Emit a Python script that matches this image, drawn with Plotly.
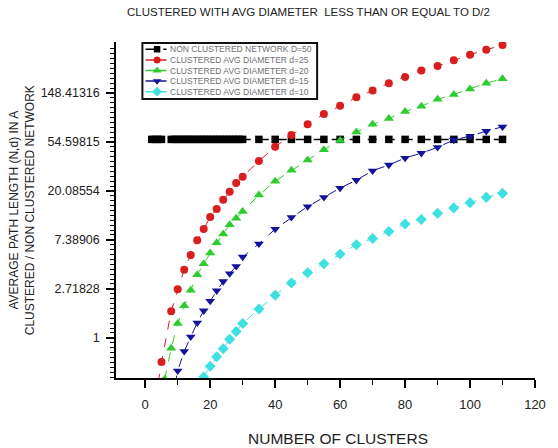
import math
import plotly.graph_objects as go

# ---------------- data ----------------
x_black = [2, 3, 4, 5, 8, 9, 10, 11, 12, 13, 14, 15, 16, 17, 18, 19, 20, 21, 22, 23, 24, 25, 26,
           27, 28, 29, 30, 35, 40, 45, 50, 55, 60, 65, 70, 75, 80, 85, 90, 95, 100, 105, 110]
y_black = [57.5] * len(x_black)

x_red = [4, 5, 8, 10, 12, 14, 16, 18, 20, 22, 24, 26, 28, 30, 35, 40, 45, 50, 55, 60, 65, 70,
         75, 80, 85, 90, 95, 100, 105, 110]
y_red = [0.40, 0.61, 1.72, 2.69, 4.01, 5.42, 7.32, 9.21, 11.8, 13.9, 16.8, 19.7, 23.6, 26.8,
         37.0, 49.4, 62.8, 78.3, 96.5, 114, 136, 156, 181, 206, 235, 257, 290, 324, 358, 395]

x_green = [6, 8, 10, 12, 14, 16, 18, 20, 22, 24, 26, 28, 30, 35, 40, 45, 50, 55, 60, 65, 70,
           75, 80, 85, 90, 95, 100, 105, 110]
y_green = [0.43, 0.81, 1.34, 1.93, 2.64, 3.63, 4.53, 5.64, 6.96, 8.33, 10.07, 11.47, 13.2,
           18.5, 24.5, 30.6, 37.7, 46.5, 56.3, 66.7, 78.3, 88.2, 101.5, 113.3, 130.3, 144,
           160.8, 181.3, 198.3]

x_blue = [8, 10, 12, 14, 16, 18, 20, 22, 24, 26, 28, 30, 35, 40, 45, 50, 55, 60, 65, 70, 75,
          80, 85, 90, 95, 100, 105, 110]
y_blue = [0.27, 0.51, 0.76, 1.02, 1.36, 1.74, 2.12, 2.62, 3.16, 3.71, 4.31, 5.21, 6.82, 9.21,
          11.7, 14.6, 17.6, 21.3, 25.0, 30.3, 34.1, 39.3, 43.4, 48.9, 56.8, 61.6, 68.0, 74.4]

x_cyan = [18, 20, 22, 24, 26, 28, 30, 35, 40, 45, 50, 55, 60, 65, 70, 75, 80, 85, 90, 95,
          100, 105, 110]
y_cyan = [0.45, 0.56, 0.68, 0.80, 0.97, 1.14, 1.34, 1.80, 2.39, 3.06, 3.78, 4.53, 5.53, 6.69,
          7.61, 8.76, 10.2, 11.2, 12.7, 14.2, 15.8, 17.6, 19.1]

series_names = ["NON CLUSTERED NETWORK D=50", "CLUSTERED AVG DIAMETER d=25",
                "CLUSTERED AVG DIAMETER d=20", "CLUSTERED AVG DIAMETER d=15",
                "CLUSTERED AVG DIAMETER d=10"]

y_tick_values = [1, math.e, math.e ** 2, math.e ** 3, math.e ** 4, math.e ** 5]
y_tick_labels = ["1", "2.71828", "7.38906", "20.08554", "54.59815", "148.41316"]
x_tick_values = [0, 20, 40, 60, 80, 100, 120]

title_text = "CLUSTERED WITH AVG DIAMETER  LESS THAN OR EQUAL TO D/2"
x_title = "NUMBER OF CLUSTERS"
y_title = "AVERAGE PATH LENGTH (N,d) IN A<br>CLUSTERED / NON CLUSTERED NETWORK"

# ---------------- styles ----------------
colors = ["#000000", "#d81e1e", "#2ecc2e", "#12129a", "#3fe0e0"]
symbols = ["square", "circle", "triangle-up", "triangle-down", "diamond"]
sizes = [7.5, 8, 9, 8.5, 8.5]
FONT = "Liberation Sans, Arial, sans-serif"

fig = go.Figure()
data = [(x_black, y_black), (x_red, y_red), (x_green, y_green), (x_blue, y_blue), (x_cyan, y_cyan)]
for i, (xs, ys) in enumerate(data):
    fig.add_trace(go.Scatter(
        x=xs, y=ys, mode="lines+markers", name=series_names[i], showlegend=False,
        line=dict(color=colors[i], width=1.5 if i == 0 else 1, dash="dash"),
        marker=dict(symbol=symbols[i], size=sizes[i], color=colors[i],
                    line=dict(width=0)),
    ))

# ---------------- manual compact legend (inset axes) ----------------
for i in range(5):
    fig.add_trace(go.Scatter(
        x=[0, 1], y=[i, i], mode="lines", xaxis="x2", yaxis="y2", showlegend=False,
        hoverinfo="skip", line=dict(color=colors[i], width=1.5, dash="dash" if i == 0 else "solid"),
    ))
    fig.add_trace(go.Scatter(
        x=[0.55], y=[i], mode="markers", xaxis="x2", yaxis="y2", showlegend=False,
        hoverinfo="skip",
        marker=dict(symbol=symbols[i], size=sizes[i] - 1, color=colors[i], line=dict(width=0)),
    ))

annotations = []
for i, name in enumerate(series_names):
    annotations.append(dict(text=name, xref="paper", yref="y2", x=0.1235, y=i,
                            xanchor="left", yanchor="middle", showarrow=False,
                            font=dict(family=FONT, size=8.5, color="#707070")))

annotations += [
    dict(text=title_text, xref="paper", yref="paper", x=0.459, y=1.089,
         xanchor="center", yanchor="middle", showarrow=False,
         font=dict(family=FONT, size=11.5, color="#222222")),
    dict(text=x_title, xref="paper", yref="paper", x=0.529, y=-0.1786,
         xanchor="center", yanchor="middle", showarrow=False,
         font=dict(family=FONT, size=15.5, color="#222222")),
    dict(text=y_title, xref="paper", yref="paper", x=-0.2238, y=0.5,
         xanchor="center", yanchor="middle", showarrow=False, textangle=-90,
         font=dict(family=FONT, size=12, color="#222222")),
]

minor_y = []
for k in range(-1, 7):
    for j in range(1, 10):
        minor_y.append(math.exp(k + j / 10))

fig.update_layout(
    width=558, height=448,
    margin=dict(l=116, r=13, t=42, b=70),
    paper_bgcolor="white", plot_bgcolor="white",
    showlegend=False,
    font=dict(family=FONT, color="#222222"),
    annotations=annotations,
    shapes=[dict(type="rect", xref="paper", yref="paper",
                 x0=0.063, x1=0.480, y0=0.830, y1=0.997,
                 line=dict(color="#111111", width=2), fillcolor="rgba(0,0,0,0)")],
    xaxis=dict(range=[-9, 120], tickvals=x_tick_values, showgrid=False, zeroline=False,
               showline=True, linecolor="black", linewidth=1.5,
               ticks="outside", ticklen=8, tickwidth=1.5, tickcolor="black",
               ticklabelstandoff=6,
               tickfont=dict(family=FONT, size=13, color="#222222"),
               minor=dict(dtick=10, tick0=0, ticks="outside", ticklen=5, tickwidth=1,
                          tickcolor="black", showgrid=False)),
    yaxis=dict(type="log", range=[math.log10(math.exp(-0.82)), math.log10(math.exp(6.04))],
               tickvals=y_tick_values, ticktext=y_tick_labels,
               showgrid=False, zeroline=False, showline=True, linecolor="black",
               linewidth=1.5, ticks="outside", ticklen=8, tickwidth=1.5, tickcolor="black",
               ticklabelstandoff=4,
               tickfont=dict(family=FONT, size=12.5, color="#222222"),
               minor=dict(tickvals=minor_y, ticks="outside", ticklen=4, tickwidth=1,
                          tickcolor="black", showgrid=False)),
    xaxis2=dict(domain=[0.070, 0.121], range=[0, 1], visible=False, fixedrange=True),
    yaxis2=dict(domain=[0.8363, 0.994], range=[4.5, -0.5], visible=False, fixedrange=True,
                anchor="x2"),
)
fig.update_layout(xaxis2_anchor="y2")

fig.write_html("out.html", config={"displayModeBar": False},
               post_script="document.body.style.margin='0';document.body.style.overflow='hidden';")
